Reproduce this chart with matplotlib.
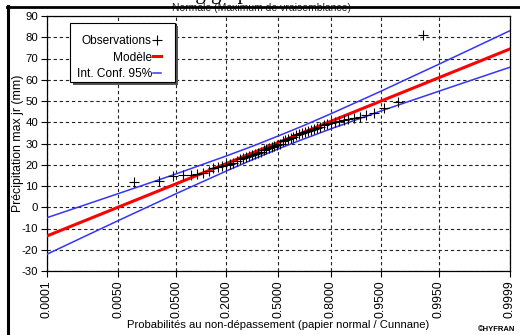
import matplotlib
matplotlib.use("Agg")
import matplotlib.pyplot as plt
from matplotlib.lines import Line2D
from matplotlib.patches import Rectangle
from statistics import NormalDist

# ---------------- data ----------------
tick_probs = [0.0001, 0.0050, 0.0500, 0.2000, 0.5000, 0.8000, 0.9500, 0.9950, 0.9999]
tick_labels = ["0.0001", "0.0050", "0.0500", "0.2000", "0.5000", "0.8000", "0.9500", "0.9950", "0.9999"]
y_ticks = [-30, -20, -10, 0, 10, 20, 30, 40, 50, 60, 70, 80, 90]

# observed annual max daily precipitation (mm), sorted
obs_values = [12.0, 12.3, 14.5, 15.2, 15.3, 15.5, 16.0, 17.0, 18.5, 19.0,
              19.5, 20.0, 20.5, 21.0, 22.0, 22.5, 23.0, 23.5, 24.0, 24.5,
              25.0, 25.5, 26.0, 27.0, 27.5, 28.0, 28.5, 29.0, 29.5, 30.0,
              31.0, 31.5, 32.0, 32.5, 33.0, 34.0, 34.5, 35.0, 35.5, 36.0,
              36.5, 37.0, 37.5, 38.0, 38.5, 39.0, 39.5, 40.0, 40.5, 41.0,
              41.5, 42.0, 42.5, 43.4, 44.4, 46.7, 49.5, 81.0]

# fitted model (normal, maximum likelihood)
model_probs = [0.0001, 0.9999]
model_values = [-13.5, 74.5]

# 95% confidence interval
ci_probs = [0.0001, 0.001, 0.005, 0.02, 0.05, 0.1, 0.2, 0.35, 0.5,
            0.65, 0.8, 0.9, 0.95, 0.98, 0.995, 0.999, 0.9999]
ci_upper = [-4.9, 1.3, 6.4, 11.6, 15.7, 19.5, 24.1, 29.1, 33.6,
            38.2, 44.0, 49.8, 54.6, 60.2, 67.3, 74.4, 83.1]
ci_lower = [-22.1, -13.4, -6.3, 0.8, 6.4, 11.2, 17.0, 22.8, 27.5,
            31.9, 36.9, 41.5, 45.3, 49.4, 54.6, 59.7, 65.9]

# ---------------- helpers ----------------
nd = NormalDist()
z = lambda ps: [nd.inv_cdf(p) for p in ps]
n = len(obs_values)
obs_probs = [(i - 0.4) / (n + 0.2) for i in range(1, n + 1)]  # Cunnane plotting positions

W, H = 520, 335
fig = plt.figure(figsize=(W / 100, H / 100), dpi=100)
FONT = ["Liberation Sans Narrow", "Liberation Sans", "DejaVu Sans"]
plt.rcParams["font.family"] = FONT

def fx(px):
    return px / W

def fy(py):
    return 1 - py / H

ax = fig.add_axes([fx(47), fy(271), fx(510) - fx(47), fy(16) - fy(271)])

ax.plot(z(ci_probs), ci_upper, color="#3434ff", lw=1.1, label="Int. Conf. 95%", zorder=3)
ax.plot(z(ci_probs), ci_lower, color="#3434ff", lw=1.1, zorder=3)
ax.plot(z(model_probs), model_values, color="#ff0000", lw=2.2, label="Modèle", zorder=4)
ax.plot(z(obs_probs), obs_values, linestyle="none", marker="+", color="black",
        markersize=7, markeredgewidth=0.8, label="Observations", zorder=5)

zt = z(tick_probs)
ax.set_xlim(zt[0], zt[-1])
ax.set_ylim(-30, 90)
ax.set_xticks(zt)
ax.set_xticklabels(tick_labels, rotation=90, fontsize=8.8)
ax.set_yticks(y_ticks)
ax.set_yticklabels([str(v) for v in y_ticks], fontsize=8.2)
ax.tick_params(axis="both", direction="out", length=4, width=0.8, pad=2.5, colors="black")
ax.grid(True, color="#222222", linestyle=(0, (3, 2.5)), linewidth=0.8)
ax.set_axisbelow(True)
for s in ax.spines.values():
    s.set_linewidth(0.9)
    s.set_color("black")

ax.set_ylabel("Précipitation max jr (mm)", fontsize=8.8)
ax.yaxis.set_label_coords((24 - 47) / (510 - 47), 0.5)
ax.set_xlabel("Probabilités au non-dépassement (papier normal / Cunnane)", fontsize=8.1, labelpad=1.5)

# legend box (frame + shadow) drawn in figure pixels
fig.add_artist(Rectangle((fx(73), fy(85)), fx(105), fy(0) - fy(59), transform=fig.transFigure,
                         facecolor="#555555", edgecolor="none", zorder=6))
fig.add_artist(Rectangle((fx(70), fy(82)), fx(105), fy(0) - fy(59), transform=fig.transFigure,
                         facecolor="white", edgecolor="black", linewidth=0.8, zorder=7))

handles, labels = ax.get_legend_handles_labels()
order = [labels.index("Observations"), labels.index("Modèle"), labels.index("Int. Conf. 95%")]
leg = ax.legend([handles[i] for i in order], [labels[i] for i in order],
                loc="upper right", bbox_to_anchor=(fx(165), fy(23)), bbox_transform=fig.transFigure,
                borderaxespad=0, markerfirst=False, frameon=False,
                handlelength=0.7, handletextpad=0.1, labelspacing=0.38, borderpad=0.3,
                fontsize=8.6, title=" ", title_fontsize=3)
leg.set_zorder(8)
leg.remove()
fig.add_artist(leg)

# titles / frame decorations
fig.text(fx(262), fy(11), "Normale (Maximum de vraisemblance)", ha="center", va="baseline",
         fontsize=7.5, color="#222222")
fig.text(fx(150), 1 + 0.5 / H, "Fitting graph", ha="left", va="baseline",
         fontsize=15, family=["Liberation Serif", "DejaVu Serif"])
fig.add_artist(Line2D([fx(7), 1.0], [fy(6.5), fy(6.5)], color="black", lw=2.0, zorder=10))
fig.add_artist(Line2D([fx(8), fx(8)], [fy(6), 0.0], color="black", lw=2.2, zorder=10))
fig.text(fx(515), fy(331), "©HYFRAN", ha="right", va="baseline", fontsize=5.5, fontweight="bold")

fig.savefig("out.png", dpi=100)
